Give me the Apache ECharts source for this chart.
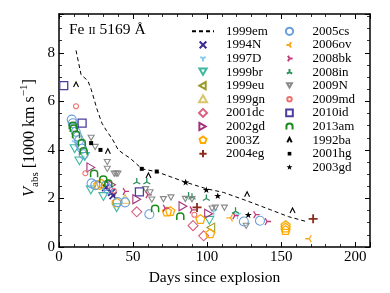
<!DOCTYPE html>
<html><head><meta charset="utf-8">
<script src="https://cdn.jsdelivr.net/npm/echarts@6/dist/echarts.min.js"></script>
<style>html,body{margin:0;padding:0;background:#fff}#c{width:390px;height:293px}</style>
</head><body><div id="c"></div>
<script>
// ---- data (days since explosion, V_abs in 1000 km/s) ----
const xTicks = [0, 50, 100, 150, 200];
const yTicks = [0, 2, 4, 6, 8];
const s1999em = [[11.5,8.1],[14.9,7.1],[19.5,6.85],[21.7,6.5],[25.8,5.65],[29,5.1],[32,4.8],[36,4.45],[40,4.0],[44,3.82],[48,3.66],[56,3.22],[66,3.1],[75,2.9],[85.5,2.67],[99.5,2.4],[111,2.25],[127,1.9],[143,1.53],[155,1.25],[167,1.05]];
const s1994N = [[31.5,2.45],[35.5,2.25],[36.5,2.12]];
const s1997D = [[11,4.3],[104.5,1.47],[120.5,1.32]];
const s1999br = [[10.6,4.05],[13.8,3.55],[17.4,3.73],[21.5,2.35],[30,2.08],[38.9,1.62],[101.5,1.1]];
const s1999eu = [[102.5,0.8]];
const s1999gn = [[44.6,1.98]];
const s2001dc = [[52.5,1.45],[90.5,0.88],[97.7,0.46]];
const s2002gd = [[21.5,3.28],[35.5,2.56],[52.5,1.97],[83.7,1.68],[101,1.37]];
const s2003Z = [[26.5,2.56],[28.5,2.62],[38.9,1.84],[72.9,1.46],[75.1,1.48],[95.5,1.15],[102,0.56],[153,0.7],[153,0.8],[153,0.9]];
const s2004eg = [[93.2,1.63],[171.6,1.16]];
const s2005cs = [[8.6,5.25],[9.3,5.1],[10.2,4.95],[11.3,4.75],[12.5,4.55],[13.6,4.4],[14.7,4.2],[15.6,4.05],[16.6,3.82],[22,2.62],[24.5,2.55],[31.5,2.52],[33.3,2.38],[39.6,1.85],[44.6,1.84],[61,1.35],[124.8,1.05],[135.7,1.08]];
const s2006ov = [[115.8,1.2],[169,0.34]];
const s2008bk = [[44.6,2.29],[60,2.15],[71.7,1.6],[89.8,1.53],[118.7,1.29],[132.8,1.33],[140.5,1.05]];
const s2008in = [[52.5,2.68],[59.3,2.68],[87.5,2.1],[89.8,2.05],[99.5,2.0],[119.2,1.47]];
const s2009N = [[21.7,4.5],[24.4,4.12],[32.6,3.5],[32.6,3.22],[37.3,3.02],[38.6,3.02],[39.8,3.02],[58.5,2.38],[61.5,2.25],[62.7,1.95],[70.5,1.97],[75.6,2.04],[85.3,1.98],[89.8,1.97],[103.4,1.58],[105.6,1.62],[111.7,1.62],[126.4,0.87]];
const s2009md = [[11.5,5.8],[17.8,3.04],[37,2.32],[91.4,1.33]];
const s2010id = [[3.2,6.65],[15.6,5.1],[54.3,2.27]];
const s2013am = [[9.3,5.0],[10,4.88],[11.5,4.62],[15.4,4.28],[16.6,3.95],[23.7,3.02],[29.9,2.78],[33.3,2.62],[64.9,1.58],[81.9,1.26]];
const s1992ba = [[11.5,6.7],[33,3.95],[60.4,2.95],[127,2.17],[157.7,1.5]];
const s2001hg = [[21.7,4.28],[28,4.0],[55.9,3.22],[66,3.11]];
const s2003gd = [[85.5,2.67],[99.5,2.36],[107.2,2.11],[127.8,1.33]];

const legendCol1 = ['1999em','1994N','1997D','1999br','1999eu','1999gn','2001dc','2002gd','2003Z','2004eg'];
const legendCol2 = ['2005cs','2006ov','2008bk','2008in','2009N','2009md','2010id','2013am','1992ba','2001hg','2003gd'];

// ---- marker shapes ----
const SH = {
  x: 'M0,0L10,10M10,0L0,10',
  plus: 'M5,0L5,10M0,5L10,5',
  triDown: 'M5,0M5,5L5,10M5,5L0.67,2.5M5,5L9.33,2.5',
  triUp: 'M5,10M5,5L5,0M5,5L0.67,7.5M5,5L9.33,7.5',
  triLeft: 'M10,5M5,5L0,5M5,5L7.5,0.67M5,5L7.5,9.33',
  triRight: 'M0,5M5,5L10,5M5,5L2.5,0.67M5,5L2.5,9.33',
  tDown: 'M0,0L10,0L5,8.66Z',
  tUp: 'M5,0L10,8.66L0,8.66Z',
  tLeft: 'M0,5L8.66,0L8.66,10Z',
  tRight: 'M0,0L8.66,5L0,10Z',
  pent: 'M5,0L9.76,3.45L7.94,9.05L2.06,9.05L0.24,3.45Z',
  caret: 'M0,10L5,0L10,10',
  arch: 'M0,10L0,4.5C0,-1.5 10,-1.5 10,4.5L10,10',
  star: 'M5,0L6.18,3.38L9.76,3.45L6.9,5.62L7.94,9.05L5,7L2.06,9.05L3.1,5.62L0.24,3.45L3.82,3.38Z',
  rect: 'M0,0L10,0L10,10L0,10Z',
  diamond: 'M5,0L10,5L5,10L0,5Z',
  circle: 'M0,5C0,2.24 2.24,0 5,0C7.76,0 10,2.24 10,5C10,7.76 7.76,10 5,10C2.24,10 0,7.76 0,5Z'
};
const P = {};
Object.keys(SH).forEach(k => { P[k] = 'path://' + SH[k]; });
function padIcon(k, pad) { return 'path://M' + (-pad) + ',' + (-pad) + 'M' + (10 + pad) + ',' + (10 + pad) + SH[k]; }

function sc(name, data, symbol, size, color, filled, bw) {
  return {
    name, type: 'scatter', data, symbol, symbolSize: size, symbolKeepAspect: true,
    itemStyle: { color: filled ? color : 'none', borderColor: color, borderWidth: bw == null ? 1.1 : bw, opacity: 1 },
    emphasis: { disabled: true }, z: 3
  };
}

const series = [
  { name: '1999em', type: 'line', data: s1999em, symbol: 'none', showSymbol: false,
    lineStyle: { color: '#000', width: 1, type: [4, 3] }, itemStyle: { color: '#000' }, z: 2 },
  sc('1994N', s1994N, P.x, 7, '#3d2b8f', false, 1.8),
  sc('1997D', s1997D, P.triDown, 8, '#7fcdee', false, 1.3),
  sc('1999br', s1999br, P.tDown, 9, '#3cb8a0', false),
  sc('1999eu', s1999eu, P.tLeft, 9, '#9a9a2a', false),
  sc('1999gn', s1999gn, P.tUp, 10, '#d9c46a', false),
  sc('2001dc', s2001dc, P.diamond, 10, '#d9607f', false),
  sc('2002gd', s2002gd, P.tRight, 9, '#a2307a', false),
  sc('2003Z', s2003Z, P.pent, 9, '#ffaa00', false, 1.3),
  sc('2004eg', s2004eg, P.plus, 9, '#8b2c1c', false, 1.8),
  sc('2005cs', s2005cs, P.circle, 9, '#6a9fdc', false),
  sc('2006ov', s2006ov, P.triLeft, 8, '#f5a623', false, 1.3),
  sc('2008bk', s2008bk, P.triRight, 8, '#c03a78', false, 1.3),
  sc('2008in', s2008in, P.triUp, 8, '#2a8f5a', false, 1.3),
  sc('2009N', s2009N, P.tDown, 6, '#8a8a8a', false),
  sc('2009md', s2009md, P.circle, 5, '#f07070', false),
  sc('2010id', s2010id, P.rect, 8, '#4a3fa0', false, 1.3),
  sc('2013am', s2013am, P.arch, 7, '#1a8a1a', false, 1.5),
  sc('1992ba', s1992ba, P.caret, 5, '#000', false, 1.1),
  sc('2001hg', s2001hg, P.rect, 4, '#000', true, 0),
  sc('2003gd', s2003gd, P.star, 7, '#000', true, 0)
];

const legendIcons = {
  '1994N': padIcon('x', 1), '1997D': padIcon('triDown', 1.5), '1999br': padIcon('tDown', 0.5),
  '1999eu': padIcon('tLeft', 0.5), '1999gn': padIcon('tUp', 0), '2001dc': padIcon('diamond', 0),
  '2002gd': padIcon('tRight', 0.5), '2003Z': padIcon('pent', 0.5), '2004eg': padIcon('plus', 0.5),
  '2005cs': padIcon('circle', 0.5), '2006ov': padIcon('triLeft', 1.5), '2008bk': padIcon('triRight', 1.5),
  '2008in': padIcon('triUp', 1.5), '2009N': padIcon('tDown', 3), '2009md': padIcon('circle', 4),
  '2010id': padIcon('rect', 1), '2013am': padIcon('arch', 1.5), '1992ba': padIcon('caret', 4),
  '2001hg': padIcon('rect', 6), '2003gd': padIcon('star', 1.5)
};
const legendData = names => names.map(n => legendIcons[n]
  ? { name: n, icon: legendIcons[n] }
  : { name: n, itemStyle: { color: 'none', borderColor: 'none', borderWidth: 0, opacity: 0 } });

const FONT = 'Liberation Serif';
const legendBase = {
  orient: 'vertical', selectedMode: false, itemWidth: 22, itemHeight: 8, itemGap: 0, padding: 0,
  textStyle: { fontFamily: FONT, fontSize: 13, color: '#000', lineHeight: 13.6, padding: [0, 0, 0, 7] },
  symbolKeepAspect: true
};

const axisCommon = {
  min: 0, axisLine: { show: true, onZero: false, lineStyle: { color: '#000', width: 1.5 } },
  axisTick: { show: true, inside: true, length: 5, lineStyle: { color: '#000', width: 1 } },
  minorTick: { show: true, length: 3, lineStyle: { color: '#000', width: 0.8 } },
  splitLine: { show: false }
};

const chart = echarts.init(document.getElementById('c'), null, { renderer: 'canvas' });
chart.setOption({
  animation: false,
  grid: { left: 59, top: 14, right: 20, bottom: 46 },
  xAxis: [
    Object.assign({}, axisCommon, { type: 'value', position: 'bottom', max: 210, interval: 50,
      minorTick: Object.assign({}, axisCommon.minorTick, { splitNumber: 5 }),
      axisLabel: { fontFamily: FONT, fontSize: 15, color: '#000', margin: 3,
        formatter: v => xTicks.includes(v) ? String(v) : '' },
      name: 'Days since explosion', nameLocation: 'middle', nameGap: 19,
      nameTextStyle: { fontFamily: FONT, fontSize: 15.5, color: '#000' } }),
    Object.assign({}, axisCommon, { type: 'value', position: 'top', max: 210, interval: 50,
      minorTick: Object.assign({}, axisCommon.minorTick, { splitNumber: 5 }),
      axisLabel: { show: false } })
  ],
  yAxis: [
    Object.assign({}, axisCommon, { type: 'value', position: 'left', max: 9.6, interval: 2,
      minorTick: Object.assign({}, axisCommon.minorTick, { splitNumber: 4 }),
      axisLabel: { fontFamily: FONT, fontSize: 15, color: '#000', margin: 4,
        formatter: v => yTicks.includes(v) ? String(v) : '' } }),
    Object.assign({}, axisCommon, { type: 'value', position: 'right', max: 9.6, interval: 2,
      minorTick: Object.assign({}, axisCommon.minorTick, { splitNumber: 4 }),
      axisLabel: { show: false } })
  ],
  legend: [
    Object.assign({}, legendBase, { left: 191, top: 24.5, data: legendData(legendCol1) }),
    Object.assign({}, legendBase, { left: 283, top: 24.5, data: legendData(legendCol2) })
  ],
  graphic: [
    { type: 'text', left: 69, top: 22, style: {
      text: '{a|Fe }{b|II}{a| 5169 Å}', fill: '#000',
      rich: { a: { fontFamily: FONT, fontSize: 15.5, color: '#000' }, b: { fontFamily: FONT, fontSize: 11, color: '#000', padding: [3, 0, 0, 0] } } } },
    { type: 'text', x: 30, y: 138, rotation: Math.PI / 2, style: {
      text: '{v|V}{s|abs}{t| [1000 km s}{p|−1}{t|]}', align: 'center', verticalAlign: 'middle', fill: '#000',
      rich: {
        v: { fontFamily: FONT, fontSize: 16, fontStyle: 'italic', color: '#000', lineHeight: 22, verticalAlign: 'middle' },
        s: { fontFamily: FONT, fontSize: 11, color: '#000', lineHeight: 22, verticalAlign: 'bottom' },
        t: { fontFamily: FONT, fontSize: 16, color: '#000', lineHeight: 22, verticalAlign: 'middle' },
        p: { fontFamily: FONT, fontSize: 11, color: '#000', lineHeight: 22, verticalAlign: 'top' }
      } } }
  ],
  series
});
</script></body></html>
